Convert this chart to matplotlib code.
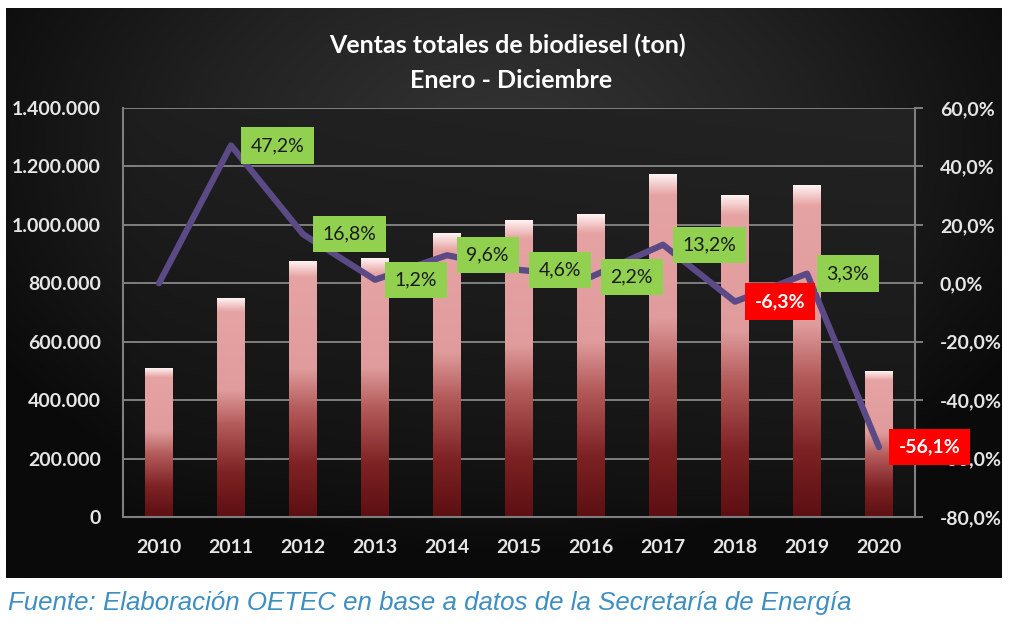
import numpy as np
import matplotlib
matplotlib.use('Agg')
import matplotlib.pyplot as plt
from matplotlib.colors import LinearSegmentedColormap
from matplotlib.ticker import FuncFormatter

# Datos
years = ['2010', '2011', '2012', '2013', '2014', '2015',
         '2016', '2017', '2018', '2019', '2020']
ventas = [508000, 748000, 874000, 884000, 969000, 1014000,
          1036000, 1173000, 1099000, 1135000, 498000]
variacion = [0.0, 47.2, 16.8, 1.2, 9.6, 4.6, 2.2, 13.2, -6.3, 3.3, -56.1]

W, H = 1032, 636
fig = plt.figure(figsize=(W / 100, H / 100), dpi=100)
fig.patch.set_facecolor('white')
plt.rcParams['font.family'] = ['Lato', 'DejaVu Sans']

# Marco negro con degradado
bg = fig.add_axes([6 / W, 1 - 578 / H, 995 / W, 570 / H])
yy, xx = np.mgrid[0:1:200j, 0:1:300j]
r = np.sqrt(((xx - 0.5) / 0.75) ** 2 + ((yy - 0.25) / 0.9) ** 2)
frame_cmap = LinearSegmentedColormap.from_list('frame', ['#353535', '#222222', '#0a0a0a'])
bg.imshow(r, cmap=frame_cmap, extent=[0, 1, 0, 1], aspect='auto', vmin=0, vmax=0.8)
bg.axis('off')

# Ejes principales
ax = fig.add_axes([123 / W, 1 - 517 / H, 792 / W, 409 / H])
ax.patch.set_alpha(0)
py, px = np.mgrid[0:1:200j, 0:1:300j]
plot_grad = 0.25 * px ** 0.3 + 0.75 * (1 - py) ** 0.6
plot_cmap = LinearSegmentedColormap.from_list('plot', ['#080808', '#232323'])
ax.imshow(plot_grad, cmap=plot_cmap, extent=[0, 1, 0, 1], transform=ax.transAxes,
          aspect='auto', zorder=0, origin='upper')

x = np.arange(len(years))
bars = ax.bar(x, ventas, width=0.38, color='none', zorder=2)
bar_cmap = LinearSegmentedColormap.from_list(
    'bar', [(0.0, '#5c0f12'), (0.2, '#7d2224'), (0.42, '#b35a5a'),
            (0.58, '#e09c9c'), (0.94, '#e6a3a3'), (0.975, '#f5d0d0'), (1.0, '#fff2f2')])
grad = np.linspace(0, 1, 256).reshape(-1, 1)
for b in bars:
    ax.imshow(grad, cmap=bar_cmap, origin='lower', aspect='auto', zorder=2,
              extent=[b.get_x(), b.get_x() + b.get_width(), 0, b.get_height()])

ax.set_xlim(-0.5, len(years) - 0.5)
ax.set_ylim(0, 1400000)
ax.set_yticks(np.arange(0, 1400001, 200000))
ax.yaxis.set_major_formatter(FuncFormatter(lambda v, p: f'{int(v):,}'.replace(',', '.')))
ax.set_xticks(x)
ax.set_xticklabels(years)
ax.grid(axis='y', color='#7f7f7f', lw=1.4, zorder=1)
ax.set_axisbelow(True)
for s in ['top', 'right']:
    ax.spines[s].set_visible(False)
for s in ['left', 'bottom']:
    ax.spines[s].set_color('#7f7f7f')
    ax.spines[s].set_linewidth(1.5)
ax.tick_params(axis='y', length=0, pad=16, labelsize=14, labelcolor='#e6e6e6')
ax.tick_params(axis='x', length=0, pad=16, labelsize=14, labelcolor='#e6e6e6')
for t in ax.get_xticklabels() + ax.get_yticklabels():
    t.set_fontweight('bold')

# Eje secundario: variacion interanual
ax2 = ax.twinx()
ax2.plot(x, variacion, color='#5b4a85', lw=4.5, zorder=3, solid_capstyle='round')
ax2.set_ylim(-80, 60)
ax2.set_yticks(np.arange(-80, 61, 20))
ax2.yaxis.set_major_formatter(FuncFormatter(lambda v, p: f'{v:.1f}%'.replace('.', ',')))
for s in ['top', 'left', 'bottom']:
    ax2.spines[s].set_visible(False)
ax2.spines['right'].set_color('#7f7f7f')
ax2.spines['right'].set_linewidth(1.5)
ax2.tick_params(axis='y', length=6, width=1.4, color='#7f7f7f', pad=12,
                labelsize=14, labelcolor='#e6e6e6')
for t in ax2.get_yticklabels():
    t.set_fontweight('bold')

for xi, v in zip(x[1:], variacion[1:]):
    neg = v < 0
    ax2.annotate(f'{v:.1f}%'.replace('.', ','), (xi, v), xytext=(14, 0),
                 textcoords='offset points', ha='left', va='center',
                 fontsize=14, color='white' if neg else '#1a1a1a',
                 fontweight='bold' if neg else 'normal',
                 bbox=dict(boxstyle='square,pad=0.5', fc='#ff0000' if neg else '#92d050',
                           ec='none'), zorder=5)

# Titulos
fig.text(507 / W, 1 - 45 / H, 'Ventas totales de biodiesel (ton)', ha='center',
         va='center', color='white', fontsize=18, fontweight='bold')
fig.text(511 / W, 1 - 80 / H, 'Enero - Diciembre', ha='center', va='center',
         color='white', fontsize=18, fontweight='bold')

fig.text(8 / W, 1 - 603 / H,
         'Fuente: Elaboración OETEC en base a datos de la Secretaría de Energía',
         ha='left', va='center', color='#3d8ec1', fontsize=18.6, style='italic',
         family='Liberation Sans')

fig.savefig('out.png', dpi=100)
